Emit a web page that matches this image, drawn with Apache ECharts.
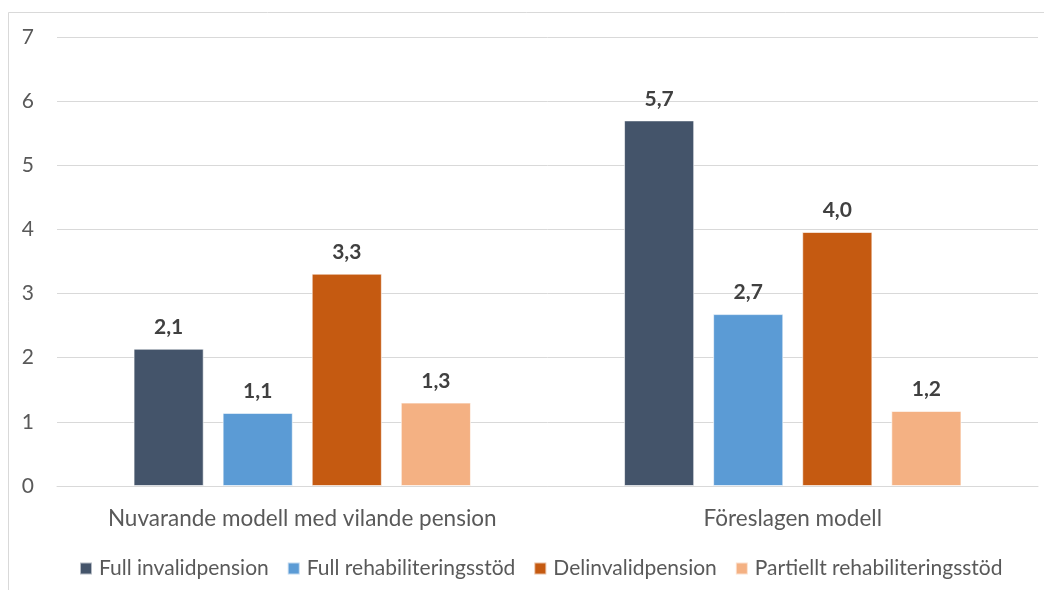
<!DOCTYPE html>
<html>
<head>
<meta charset="utf-8">
<script src="https://cdn.jsdelivr.net/npm/echarts@6/dist/echarts.min.js"></script>
<style>
  html, body { margin: 0; padding: 0; background: #fff; }
  #chart { width: 1044px; height: 590px; }
</style>
</head>
<body>
<div id="chart"></div>
<script>
// kategorier och serier
const categories = ['Nuvarande modell med vilande pension', 'Föreslagen modell']
const seriesNames = ['Full invalidpension', 'Full rehabiliteringsstöd', 'Delinvalidpension', 'Partiellt rehabiliteringsstöd']
const fullInvalid = [2.14, 5.70]
const fullRehab = [1.14, 2.68]
const delInvalid = [3.31, 3.96]
const partRehab = [1.30, 1.17]
const yTicks = [0, 1, 2, 3, 4, 5, 6, 7]

const colors = ['#44546A', '#5B9BD5', '#C55A11', '#F4B183']
const font = 'Lato, "Open Sans", sans-serif'

const chart = echarts.init(document.getElementById('chart'))

const makeSeries = (name, data, color) => ({
  name: name,
  type: 'bar',
  data: data,
  barWidth: '14.3%',
  barGap: '27%',
  itemStyle: { color: color, borderColor: 'rgba(255,255,255,0.6)', borderWidth: 1 },
  label: {
    show: true,
    position: 'top',
    distance: 11,
    fontFamily: font,
    fontSize: 21,
    fontWeight: 'bold',
    color: '#404040',
    formatter: p => p.value.toFixed(1).replace('.', ',')
  }
})

const option = {
  animation: false,
  backgroundColor: '#fff',
  textStyle: { fontFamily: font },
  graphic: [{
    type: 'rect',
    shape: { x: 8.5, y: 12.5, width: 1100, height: 700 },
    style: { fill: 'none', stroke: '#d9d9d9', lineWidth: 1 },
    silent: true
  }],
  grid: { left: 57, right: 6, top: 37, bottom: 104, containLabel: false },
  legend: {
    left: 74,
    top: 553,
    itemWidth: 12,
    itemHeight: 12,
    itemGap: 18,
    icon: 'rect',
    textStyle: { fontFamily: font, fontSize: 21, color: '#595959', padding: [0, 0, 0, 2] },
    data: seriesNames
  },
  xAxis: {
    type: 'category',
    data: categories,
    axisLine: { show: true, lineStyle: { color: '#d9d9d9', width: 1 } },
    axisTick: { show: false },
    axisLabel: { interval: 0, margin: 21, fontFamily: font, fontSize: 22.5, color: '#595959' }
  },
  yAxis: {
    type: 'value',
    min: yTicks[0],
    max: yTicks[yTicks.length - 1],
    interval: 1,
    axisLine: { show: false },
    axisTick: { show: false },
    splitLine: { lineStyle: { color: '#d9d9d9', width: 1 } },
    axisLabel: { margin: 23, fontFamily: font, fontSize: 21, color: '#595959' }
  },
  series: [
    makeSeries(seriesNames[0], fullInvalid, colors[0]),
    makeSeries(seriesNames[1], fullRehab, colors[1]),
    makeSeries(seriesNames[2], delInvalid, colors[2]),
    makeSeries(seriesNames[3], partRehab, colors[3])
  ]
}

chart.setOption(option)
</script>
</body>
</html>
